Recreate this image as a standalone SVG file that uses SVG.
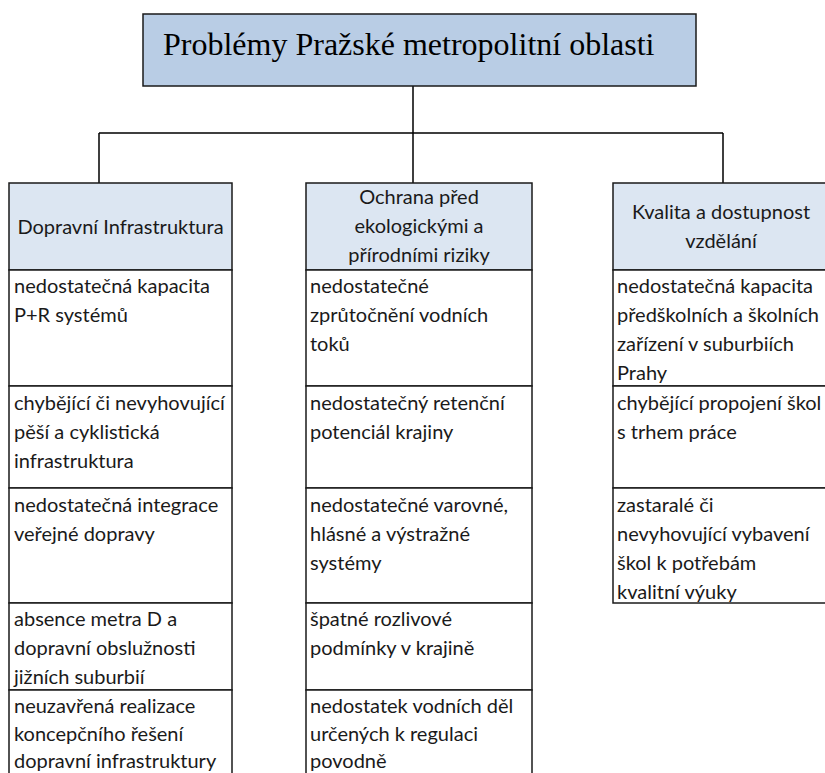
<svg xmlns="http://www.w3.org/2000/svg" width="825" height="773" viewBox="0 0 825 773">
<style>
.box{stroke:#1a1a1a;stroke-width:1.5}
.title{fill:#b9cde5}
.head{fill:#dce6f2}
.cell{fill:#ffffff}
.conn{fill:none;stroke:#000;stroke-width:1.5}
.tt{font-family:"Liberation Serif","Times New Roman",serif;font-size:32px;fill:#000}
.t{font-family:Lato,"Liberation Sans",sans-serif;font-size:20px;fill:#1a1a1a}
.c{text-anchor:middle}
</style>
<rect width="825" height="773" fill="#fff"/>
<g id="connectors">
<path class="conn" d="M413 86V133M99 133H723M99 133V183M413 133V183M723 133V183"/>
</g>
<g id="title">
<rect class="box title" x="143" y="14" width="553" height="72"/>
<text class="tt" x="163" y="55">Problémy Pražské metropolitní oblasti</text>
</g>
<g id="col-doprava">
<rect class="box head" x="9" y="183" width="223" height="87"/>
<text class="t c" x="120.5" y="234">Dopravní Infrastruktura</text>
<rect class="box cell" x="9" y="270" width="223" height="116"/>
<text class="t" x="14" y="293">nedostatečná kapacita</text>
<text class="t" x="14" y="322">P+R systémů</text>
<rect class="box cell" x="9" y="386" width="223" height="102"/>
<text class="t" x="14" y="410">chybějící či nevyhovující</text>
<text class="t" x="14" y="439">pěší a cyklistická</text>
<text class="t" x="14" y="468">infrastruktura</text>
<rect class="box cell" x="9" y="488" width="223" height="115"/>
<text class="t" x="14" y="512">nedostatečná integrace</text>
<text class="t" x="14" y="541">veřejné dopravy</text>
<rect class="box cell" x="9" y="603" width="223" height="87"/>
<text class="t" x="14" y="626">absence metra D a</text>
<text class="t" x="14" y="655">dopravní obslužnosti</text>
<text class="t" x="14" y="684">jižních suburbií</text>
<rect class="box cell" x="9" y="690" width="223" height="100"/>
<text class="t" x="14" y="713">neuzavřená realizace</text>
<text class="t" x="14" y="741">koncepčního řešení</text>
<text class="t" x="14" y="768">dopravní infrastruktury</text>
</g>
<g id="col-ochrana">
<rect class="box head" x="306" y="183" width="226" height="87"/>
<text class="t c" x="419" y="204">Ochrana před</text>
<text class="t c" x="419" y="233">ekologickými a</text>
<text class="t c" x="419" y="262">přírodními riziky</text>
<rect class="box cell" x="306" y="270" width="226" height="116"/>
<text class="t" x="310" y="293">nedostatečné</text>
<text class="t" x="310" y="322">zprůtočnění vodních</text>
<text class="t" x="310" y="351">toků</text>
<rect class="box cell" x="306" y="386" width="226" height="102"/>
<text class="t" x="310" y="410">nedostatečný retenční</text>
<text class="t" x="310" y="439">potenciál krajiny</text>
<rect class="box cell" x="306" y="488" width="226" height="115"/>
<text class="t" x="310" y="512">nedostatečné varovné,</text>
<text class="t" x="310" y="541">hlásné a výstražné</text>
<text class="t" x="310" y="570">systémy</text>
<rect class="box cell" x="306" y="603" width="226" height="87"/>
<text class="t" x="310" y="626">špatné rozlivové</text>
<text class="t" x="310" y="655">podmínky v krajině</text>
<rect class="box cell" x="306" y="690" width="226" height="100"/>
<text class="t" x="310" y="713">nedostatek vodních děl</text>
<text class="t" x="310" y="741">určených k regulaci</text>
<text class="t" x="310" y="768">povodně</text>
</g>
<g id="col-vzdelani">
<rect class="box head" x="613" y="183" width="220" height="87"/>
<text class="t c" x="721" y="219">Kvalita a dostupnost</text>
<text class="t c" x="721" y="248">vzdělání</text>
<rect class="box cell" x="613" y="270" width="220" height="116"/>
<text class="t" x="617" y="293">nedostatečná kapacita</text>
<text class="t" x="617" y="322">předškolních a školních</text>
<text class="t" x="617" y="351">zařízení v suburbiích</text>
<text class="t" x="617" y="380">Prahy</text>
<rect class="box cell" x="613" y="386" width="220" height="102"/>
<text class="t" x="617" y="410">chybějící propojení škol</text>
<text class="t" x="617" y="439">s trhem práce</text>
<rect class="box cell" x="613" y="488" width="220" height="115"/>
<text class="t" x="617" y="512">zastaralé či</text>
<text class="t" x="617" y="541">nevyhovující vybavení</text>
<text class="t" x="617" y="570">škol k potřebám</text>
<text class="t" x="617" y="599">kvalitní výuky</text>
</g>
</svg>
